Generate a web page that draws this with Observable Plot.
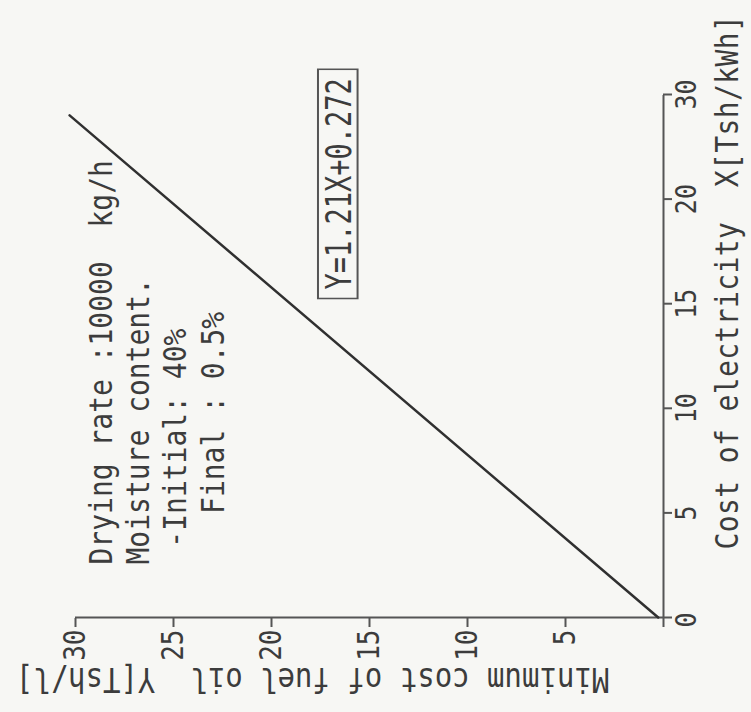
<!DOCTYPE html>
<html><head><meta charset="utf-8">
<script src="https://cdn.jsdelivr.net/npm/d3@7"></script>
<script src="https://cdn.jsdelivr.net/npm/@observablehq/plot@0.6"></script>
<style>
html,body{margin:0;padding:0;background:#f7f7f4;overflow:hidden;}
#wrap{position:absolute;left:0;top:0;width:751px;height:712px;overflow:hidden;background:#f7f7f4;}
#chart{position:absolute;left:0;top:0;width:712px;height:751px;transform-origin:0 0;transform:translate(0px,712px) rotate(-90deg);}
</style></head><body><div id="wrap"><div id="chart"></div></div>
<script>
// ---- data ----
const costElectricity = [0, 24.0];      // X [Tsh/kWh]
const fuelOilCost     = [0.27, 30.3];   // Y [Tsh/l]
const xTicks      = [0, 5, 10, 15, 20, 25];
const xTickLabels = ["", "5", "10", "15", "20", "30"];   // top tick is lettered "30" in the figure
const yTicks      = [0, 5, 10, 15, 20, 25, 30];
const yTickLabels = ["", "5", "10", "15", "20", "25", "30"];
const originLabel = "0";
const annotationLines = [
  "Drying rate :10000  kg/h",
  "Moisture content.",
  " -Initial: 40%",
  "   Final : 0.5%"
];
const equationLabel = "Y=1.21X+0.272";
const xTitle = "Cost of electricity  X[Tsh/kWh]";
const yTitle = "Minimum cost of fuel oil  Y[Tsh/l]";

// ---- build ----
const lineData = costElectricity.map((x, i) => ({x, y: fuelOilCost[i]}));
const xLab = new Map(xTicks.map((t, i) => [t, xTickLabels[i]]));
const yLab = new Map(yTicks.map((t, i) => [t, yTickLabels[i]]));
const nb = s => s.replace(/ /g, "\u00a0");
const font = "'DejaVu Sans Mono', monospace";
const ink = "#3c3c3c", axisInk = "#555555";
const stretch = 1.15, eqStretch = 1.3;   // stencil lettering is taller than the mono font

const chart = Plot.plot({
  width: 712, height: 751,
  marginLeft: 94, marginRight: 95, marginTop: 75, marginBottom: 88,
  style: {background: "transparent", fontFamily: font, color: ink},
  x: {domain: [0, 25]},
  y: {domain: [0, 30]},
  marks: [
    Plot.ruleY([0], {stroke: axisInk, strokeWidth: 2}),
    Plot.ruleX([0], {stroke: axisInk, strokeWidth: 2}),
    Plot.axisX({ticks: xTicks, tickFormat: d => xLab.get(d), tickSize: 9, tickPadding: 3,
      fontSize: 25, label: null, stroke: axisInk, strokeWidth: 2, fill: ink}),
    Plot.axisY({ticks: yTicks, tickFormat: d => yLab.get(d), tickSize: 9, tickPadding: 3,
      fontSize: 26, label: null, stroke: axisInk, strokeWidth: 2, fill: ink}),
    Plot.text([originLabel], {frameAnchor: "bottom-left", dx: -10, dy: 12, lineAnchor: "top",
      fontSize: 25, fill: ink}),
    Plot.line(lineData, {x: "x", y: "y", stroke: "#303030", strokeWidth: 2.5}),
    Plot.text([annotationLines.map(nb).join("\n")], {frameAnchor: "top-left", dx: 53, dy: 148,
      textAnchor: "start", lineAnchor: "bottom", lineHeight: 1.15, fontSize: 28, fill: ink}),
    Plot.text([equationLabel], {frameAnchor: "top-left", dx: 328, dy: 275,
      textAnchor: "start", lineAnchor: "bottom", fontSize: 27, fill: ink}),
    Plot.text([nb(xTitle)], {frameAnchor: "bottom-left", dx: 68, dy: 74,
      textAnchor: "start", lineAnchor: "bottom", fontSize: 28, fill: ink}),
    Plot.text([nb(yTitle)], {frameAnchor: "left", dx: -50, dy: -57, rotate: -90,
      textAnchor: "middle", lineAnchor: "bottom", fontSize: 29, fill: ink})
  ]
});
document.getElementById("chart").appendChild(chart);

// taller lettering, title spacing and the frame round the equation
for (const t of chart.querySelectorAll("text")) {
  const tr = t.getAttribute("transform") || "";
  const isEq = t.textContent === equationLabel;
  t.setAttribute("transform", tr + ` scale(1,${isEq ? eqStretch : stretch})`);
  if (t.textContent === nb(xTitle)) t.style.letterSpacing = "0.4px";
  if (isEq) {
    const f = 27, bb = t.getBBox(), px = 9, pad = 7 / eqStretch;
    const base = bb.y + 0.928 * f;
    const r = document.createElementNS("http://www.w3.org/2000/svg", "rect");
    r.setAttribute("x", bb.x - px);
    r.setAttribute("y", base - 0.729 * f - pad);
    r.setAttribute("width", bb.width + 2 * px);
    r.setAttribute("height", 0.729 * f + 2 * pad);
    r.setAttribute("fill", "none"); r.setAttribute("stroke", axisInk);
    r.setAttribute("stroke-width", 2 / eqStretch);
    r.setAttribute("transform", t.getAttribute("transform"));
    t.parentNode.insertBefore(r, t);
  }
}
</script></body></html>
